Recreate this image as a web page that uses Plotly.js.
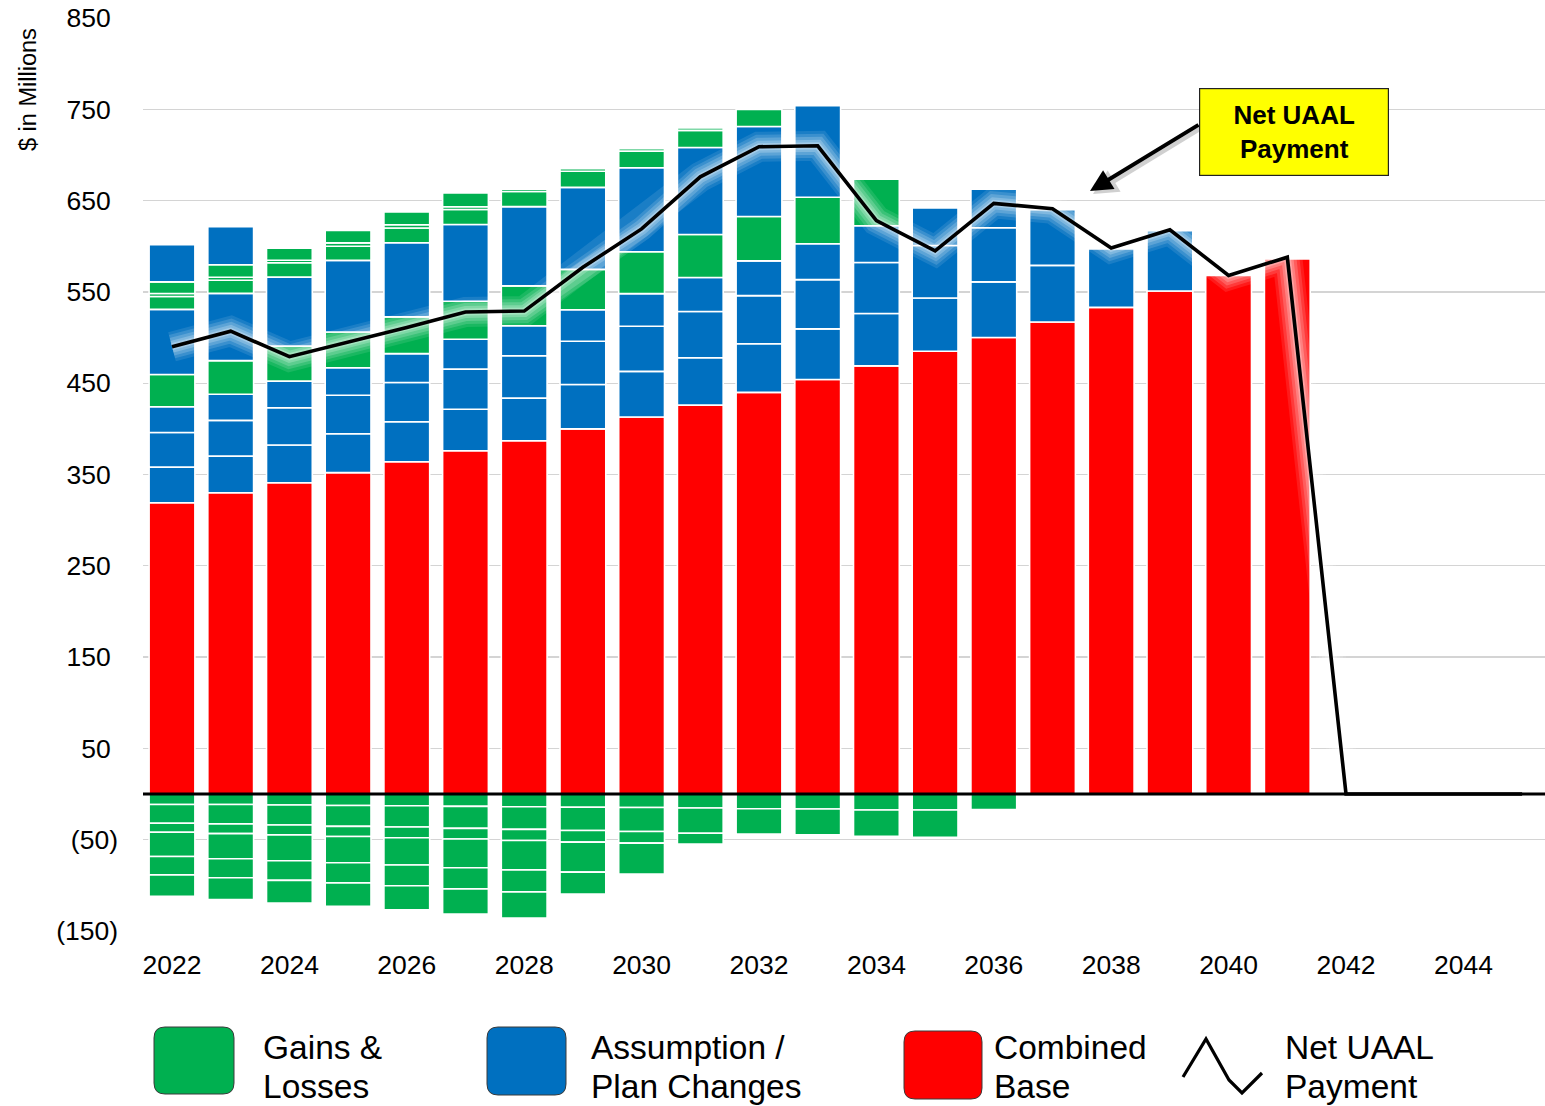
<!DOCTYPE html>
<html>
<head>
<meta charset="utf-8">
<script src="https://cdn.plot.ly/plotly-3.0.1.min.js"></script>
<style>html,body{margin:0;padding:0;background:#fff;}#chart{width:1545px;height:1106px;}</style>
</head>
<body>
<div id="chart"></div>
<script>
// ---------- DATA ----------
const barYears = [2022,2023,2024,2025,2026,2027,2028,2029,2030,2031,2032,2033,2034,2035,2036,2037,2038,2039,2040,2041];
const lineYears = [2022,2023,2024,2025,2026,2027,2028,2029,2030,2031,2032,2033,2034,2035,2036,2037,2038,2039,2040,2041,2042,2043,2044,2045];

const combinedBase = [319,330,341,352,364,376,387,400,413,426,440,454,469,485,500,517,533,551,568,586];

// Assumption / Plan Changes layers (stack order bottom -> top)
const assump1 = [39.1,40.1,41.3,42.7,43.7,45.4,46.7,48.5,50,51.8,53.2,55.5,57.4,58.3,61,62,64,66,null,null];
const assump2 = [37.9,39.2,40.8,42.1,43,44,46.3,47.4,49.4,50.8,52.7,53.9,55.8,57.5,59.3,61.1,null,null,null,null];
const assump3 = [28.2,28.6,29.2,30.1,31.7,32.8,33,34.6,35.7,37.2,38.1,39.4,40.2,41.2,42.2,null,null,null,null,null];
const assump4 = [71.3,73.7,75.6,78.5,81.3,84,86.8,89.8,92,95.3,98.5,100.3,null,null,null,null,null,null,null,null];
const assump5 = [40.7,41.8,null,null,null,null,null,null,null,null,null,null,null,null,null,null,null,null,null,null];

// Gains & Losses layers (positive)
const gain1 = [35.4,36.8,38.3,39.1,40.2,41.6,43.6,44.2,45.8,47,48.6,50.8,51.1,null,null,null,null,null,null,null];
const gain2 = [14,14.4,15.8,15.5,16.1,16.4,16.5,17.7,18.3,18.8,18.7,null,null,null,null,null,null,null,null,null];
const gain3 = [3.3,3.3,2.6,3.7,3.6,3,2.7,2.8,2.7,2.7,null,null,null,null,null,null,null,null,null,null];
const gain4 = [12.8,13.6,13.3,13.6,14,15.1,null,null,null,null,null,null,null,null,null,null,null,null,null,null];

// Gains & Losses layers (negative), nearest zero first
const loss1 = [-11.5,-11.5,-12,-12.6,-12.8,-13.5,-13.9,-14.4,-14.8,-15.3,-16.1,-16.3,-17.4,-17.4,-17,null,null,null,null,null];
const loss2 = [-20.5,-21.2,-21.9,-22.8,-23.3,-24.1,-24.8,-25.6,-26.2,-27.6,-27.6,-28.2,-29,-30.1,null,null,null,null,null,null];
const loss3 = [-9.8,-10.7,-10.8,-11.1,-11.7,-11.6,-12.2,-12.7,-12.8,-11.8,null,null,null,null,null,null,null,null,null,null];
const loss4 = [-26.6,-27.4,-28.3,-28.8,-29.9,-31.6,-32.2,-32.8,-33.7,null,null,null,null,null,null,null,null,null,null,null];
const loss5 = [-20.1,-20.8,-21.5,-22,-22.8,-23.1,-24,-23.9,null,null,null,null,null,null,null,null,null,null,null,null];
const loss6 = [-23.5,-24,-24.8,-25.7,-26.4,-27.4,-28.6,null,null,null,null,null,null,null,null,null,null,null,null,null];

const netPayment = [490,507,479,495,511,528,529,577,619,676,709,710,628,595,647,641,598,618,568,588,0,0,0,0];

const yTickVals = [-150,-50,50,150,250,350,450,550,650,750,850];
const yTickText = ['(150)','(50)','50\u00A0','150\u00A0','250\u00A0','350\u00A0','450\u00A0','550\u00A0','650\u00A0','750\u00A0','850\u00A0'];
const xTickVals = [2022,2024,2026,2028,2030,2032,2034,2036,2038,2040,2042,2044];

const legendLines = [['Gains &','Losses'],['Assumption /','Plan Changes'],['Combined','Base'],['Net UAAL','Payment']];

// ---------- STYLE ----------
const GREEN = '#00B050', BLUE = '#0070C0', RED = '#FF0000';
const FONT = 'Liberation Sans, Arial, sans-serif';

function barTrace(y, color) {
  return {type:'bar', x:barYears, y:y, marker:{color:color, line:{color:'#ffffff', width:1.6}},
          hoverinfo:'skip', showlegend:false};
}
function lineTrace(color, width) {
  return {type:'scatter', mode:'lines', x:lineYears, y:netPayment,
          line:{color:color, width:width}, hoverinfo:'skip', showlegend:false};
}

const traces = [
  barTrace(combinedBase, RED),
  barTrace(assump1, BLUE),
  barTrace(assump2, BLUE),
  barTrace(assump3, BLUE),
  barTrace(gain1, GREEN),
  barTrace(assump4, BLUE),
  barTrace(gain2, GREEN),
  barTrace(gain3, GREEN),
  barTrace(gain4, GREEN),
  barTrace(assump5, BLUE),
  barTrace(loss1, GREEN),
  barTrace(loss2, GREEN),
  barTrace(loss3, GREEN),
  barTrace(loss4, GREEN),
  barTrace(loss5, GREEN),
  barTrace(loss6, GREEN),
  lineTrace('rgba(255,255,255,0.10)', 30),
  lineTrace('rgba(255,255,255,0.14)', 24),
  lineTrace('rgba(255,255,255,0.18)', 18),
  lineTrace('rgba(255,255,255,0.22)', 12),
  lineTrace('rgba(255,255,255,0.28)', 7),
  lineTrace('#000000', 3.6)
];

// pixel -> paper helpers for layout decorations
const PL = 143, PT = 18, PW = 1402, PH = 913;
const PX = v => (v - PL) / PW;
const PY = v => (PT + PH - v) / PH;
function roundRect(x0, y0, x1, y1, r) {
  return 'M' + PX(x0+r) + ',' + PY(y0) + ' L' + PX(x1-r) + ',' + PY(y0) +
    ' Q' + PX(x1) + ',' + PY(y0) + ' ' + PX(x1) + ',' + PY(y0+r) +
    ' L' + PX(x1) + ',' + PY(y1-r) +
    ' Q' + PX(x1) + ',' + PY(y1) + ' ' + PX(x1-r) + ',' + PY(y1) +
    ' L' + PX(x0+r) + ',' + PY(y1) +
    ' Q' + PX(x0) + ',' + PY(y1) + ' ' + PX(x0) + ',' + PY(y1-r) +
    ' L' + PX(x0) + ',' + PY(y0+r) +
    ' Q' + PX(x0) + ',' + PY(y0) + ' ' + PX(x0+r) + ',' + PY(y0) + ' Z';
}
function polyPath(pts) {
  return pts.map((p, i) => (i ? 'L' : 'M') + PX(p[0]) + ',' + PY(p[1])).join(' ');
}

const shapes = [
  {type:'line', xref:'paper', yref:'y', x0:0, x1:1, y0:0, y1:0, line:{color:'#000', width:3}, layer:'above'},
  {type:'path', xref:'paper', yref:'paper', path:roundRect(154,1027,234,1094,11), fillcolor:GREEN, line:{color:'#3a3a3a', width:1}},
  {type:'path', xref:'paper', yref:'paper', path:roundRect(487,1027,566,1095,11), fillcolor:BLUE, line:{color:'#3a3a3a', width:1}},
  {type:'path', xref:'paper', yref:'paper', path:roundRect(904,1031,982,1099,11), fillcolor:RED, line:{color:'#3a3a3a', width:1}},
  {type:'path', xref:'paper', yref:'paper', path:polyPath([[1183,1077],[1206,1039],[1229,1080],[1242,1093],[1262,1073]]), line:{color:'#000', width:3.2}}
];

const annFont = {family:FONT, size:33.5, color:'#000'};
const legendX = [261, 589, 992, 1283];
const annotations = [
  {xref:'paper', yref:'paper', x:PX(28), y:PY(90), text:'$ in Millions', textangle:-90, showarrow:false,
   font:{family:FONT, size:23.5, color:'#000'}, xanchor:'center', yanchor:'middle'},
  // arrow shadow
  {xref:'paper', yref:'paper', x:PX(1093), y:PY(194), ax:110, ay:-67, text:'', showarrow:true,
   arrowhead:2, arrowsize:1.1, arrowwidth:4.5, arrowcolor:'rgba(0,0,0,0.18)'},
  // arrow
  {xref:'paper', yref:'paper', x:PX(1090), y:PY(191), ax:110, ay:-67, text:'', showarrow:true,
   arrowhead:2, arrowsize:1.1, arrowwidth:4, arrowcolor:'#000'},
  // callout box
  {xref:'paper', yref:'paper', x:PX(1294), y:PY(132), text:'<b>Net UAAL<br>Payment</b>', showarrow:false,
   xanchor:'center', yanchor:'middle', bgcolor:'#FFFF00', bordercolor:'#222', borderwidth:1.2,
   width:186, height:84, align:'center', font:{family:FONT, size:26, color:'#000'}}
];
legendLines.forEach((lines, i) => {
  annotations.push({xref:'paper', yref:'paper', x:PX(legendX[i]), y:PY(1047), text:lines[0], showarrow:false,
    xanchor:'left', yanchor:'middle', font:annFont});
  annotations.push({xref:'paper', yref:'paper', x:PX(legendX[i]), y:PY(1086), text:lines[1], showarrow:false,
    xanchor:'left', yanchor:'middle', font:annFont});
});

const layout = {
  width:1545, height:1106,
  margin:{l:PL, r:0, t:PT, b:1106-PT-PH},
  paper_bgcolor:'#ffffff', plot_bgcolor:'#ffffff',
  barmode:'relative', bargap:0.22,
  showlegend:false,
  font:{family:FONT, color:'#000'},
  xaxis:{range:[2021.506, 2045.39], tickvals:xTickVals, ticktext:xTickVals.map(String),
         showgrid:false, zeroline:false, showline:false, ticks:'', ticklabelstandoff:15,
         tickfont:{family:FONT, size:26.5, color:'#000'}},
  yaxis:{range:[-150, 850], tickvals:yTickVals, ticktext:yTickText, showgrid:true,
         gridcolor:'#d4d4d4', gridwidth:1.3, zeroline:false, showline:false, ticks:'',
         ticklabelstandoff:24, tickfont:{family:FONT, size:26.5, color:'#000'}},
  shapes:shapes,
  annotations:annotations
};

Plotly.newPlot('chart', traces, layout, {staticPlot:true, displayModeBar:false});
</script>
</body>
</html>
